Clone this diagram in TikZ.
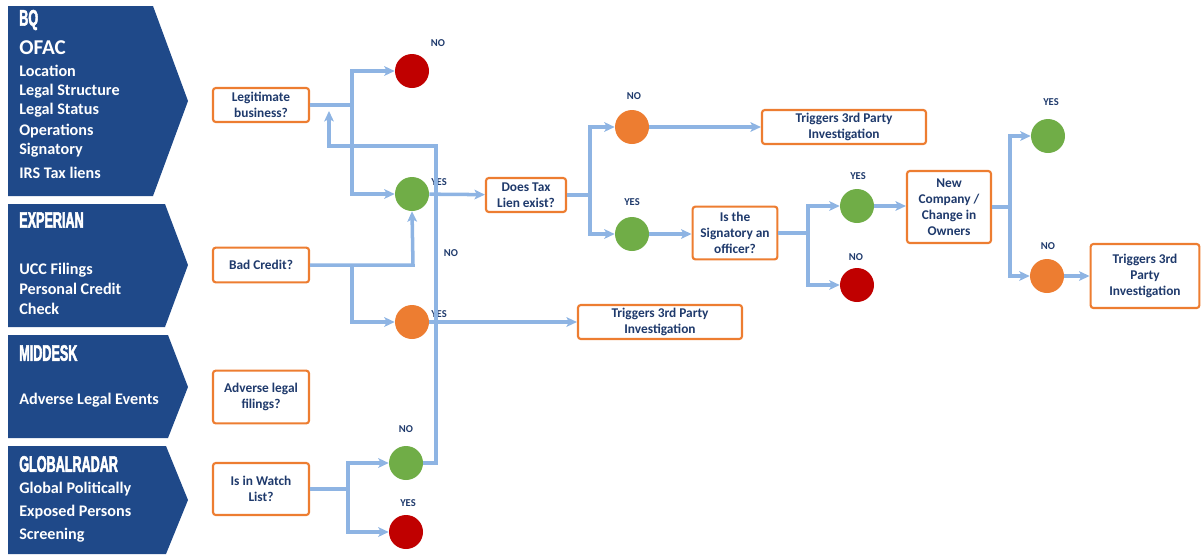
\documentclass[tikz,border=0pt]{standalone}
\usepackage{fontspec}
\setmainfont{Carlito}
\newfontfamily\headfont[FakeStretch=0.56, FakeBold=2.2]{Liberation Sans}
\usetikzlibrary{arrows.meta}

\definecolor{panelblue}{RGB}{31,73,137}
\definecolor{textblue}{RGB}{31,58,108}
\definecolor{boxorange}{RGB}{237,125,49}
\definecolor{linkblue}{RGB}{142,180,227}
\definecolor{dotgreen}{RGB}{112,173,71}
\definecolor{dotred}{RGB}{192,0,0}
\definecolor{dotorange}{RGB}{237,125,49}

\tikzset{
  ptext/.style={anchor=west, text=white, inner sep=0, font=\bfseries\fontsize{11.5}{13}\selectfont},
  phead/.style={anchor=west, text=white, inner sep=0, font=\headfont\bfseries\fontsize{16}{18}\selectfont},
  qbox/.style={draw=boxorange, line width=1.5pt, rounded corners=2pt, fill=white, align=center,
    text=textblue, inner sep=1pt, font=\bfseries\fontsize{9.5}{11.4}\selectfont},
  dot/.style={circle, minimum size=0.85cm, inner sep=0},
  tag/.style={text=textblue, font=\bfseries\fontsize{7.5}{9}\selectfont},
  link/.style={draw=linkblue, line width=2.5pt},
  arr/.style={link, -{Stealth[length=0.26cm,width=0.24cm,inset=0.06cm]}},
  bigarr/.style={arr, line width=3.5pt}
}

\begin{document}
\begin{tikzpicture}[x=0.025cm,y=-0.025cm]
\useasboundingbox (0,0) rectangle (1201,554);

% source panels
\fill[panelblue] (8,6) -- (153,6) -- (188,101) -- (153,196) -- (8,196) -- cycle;
\fill[panelblue] (8,204) -- (165,204) -- (188,265) -- (165,327) -- (8,327) -- cycle;
\fill[panelblue] (8,335) -- (168,335) -- (188,387) -- (168,438) -- (8,438) -- cycle;
\fill[panelblue] (8,446) -- (166,446) -- (188,500) -- (166,554) -- (8,554) -- cycle;

\node[phead] (hbq) at (19,20) {BQ};
\node[ptext, font=\bfseries\fontsize{15}{17}\selectfont] (ofac) at (19,48) {OFAC};
\foreach \t/\y [count=\i] in {Location/71, Legal Structure/91, Legal Status/110,
    Operations/131, Signatory/150, IRS Tax liens/173}
  \node[ptext] (bq\i) at (19,\y) {\t};

\node[phead] (hexp) at (19,220) {EXPERIAN};
\foreach \t/\y [count=\i] in {UCC Filings/270, Personal Credit/289, Check/309}
  \node[ptext] (exp\i) at (19,\y) {\t};

\node[phead] (hmid) at (19,353) {MIDDESK};
\node[ptext] (mid1) at (19,400) {Adverse Legal Events};

\node[phead] (hglo) at (19,464) {GLOBALRADAR};
\foreach \t/\y [count=\i] in {Global Politically/489, Exposed Persons/512, Screening/535}
  \node[ptext] (glo\i) at (19,\y) {\t};

% questions
\node[qbox, minimum width=2.4cm, minimum height=0.85cm] (legit) at (261,105) {Legitimate\\business?};
\node[qbox, minimum width=2.4cm, minimum height=0.87cm] (credit) at (261,265) {Bad Credit?};
\node[qbox, minimum width=2.4cm, minimum height=1.32cm] (adverse) at (261,397) {Adverse legal\\filings?};
\node[qbox, minimum width=2.4cm, minimum height=1.3cm] (watch) at (261,489) {Is in Watch\\List?};
\node[qbox, minimum width=2cm, minimum height=0.85cm] (taxlien) at (526,195) {Does Tax\\Lien exist?};
\node[qbox, minimum width=4.1cm, minimum height=0.85cm] (trig1) at (844,127) {Triggers 3rd Party\\Investigation};
\node[qbox, minimum width=4.1cm, minimum height=0.85cm] (trig2) at (660,322) {Triggers 3rd Party\\Investigation};
\node[qbox, minimum width=2.12cm, minimum height=1.32cm] (signat) at (735,233) {Is the\\Signatory an\\officer?};
\node[qbox, minimum width=2.1cm, minimum height=1.8cm] (newco) at (949,207) {New\\Company /\\Change in\\Owners};
\node[qbox, minimum width=2.72cm, minimum height=1.6cm] (trig3) at (1145,276) {Triggers 3rd\\Party\\Investigation};

% outcomes
\node[dot, fill=dotred] (lno) at (412,71) {};
\node[dot, fill=dotgreen] (lyes) at (412,194) {};
\node[dot, fill=dotorange] (cyes) at (412,322) {};
\node[dot, fill=dotgreen] (wno) at (406,463) {};
\node[dot, fill=dotred] (wyes) at (406,532) {};
\node[dot, fill=dotorange] (tno) at (632,127) {};
\node[dot, fill=dotgreen] (tyes) at (632,234) {};
\node[dot, fill=dotgreen] (syes) at (857,206) {};
\node[dot, fill=dotred] (sno) at (857,285) {};
\node[dot, fill=dotgreen] (nyes) at (1048,136) {};
\node[dot, fill=dotorange] (nno) at (1047,276) {};

\node[tag] (t1) at (438,43) {NO};
\node[tag] (t2) at (439,182) {YES};
\node[tag] (t3) at (439,314) {YES};
\node[tag] (t4) at (451,253) {NO};
\node[tag] (t5) at (406,429) {NO};
\node[tag] (t6) at (408,503) {YES};
\node[tag] (t7) at (634,96) {NO};
\node[tag] (t8) at (632,202) {YES};
\node[tag] (t9) at (858,176) {YES};
\node[tag] (t10) at (856,257) {NO};
\node[tag] (t11) at (1051,102) {YES};
\node[tag] (t12) at (1048,246) {NO};

% connectors
\coordinate (j1) at (352,105);
\draw[link] (legit.east) -- (j1);
\draw[arr] (j1) |- (lno);
\draw[arr] (j1) |- (lyes);

\coordinate (j2) at (413,265);
\coordinate (j3) at (352,265);
\draw[arr] (credit.east) -- (j2) -- (lyes.south);
\draw[arr] (j3) |- (cyes);

\draw[arr] (wno.east) -- (436,463) -- (436,146) -- (329,146) -- (329,111);

\coordinate (j4) at (348,489);
\draw[link] (watch.east) -- (j4);
\draw[arr] (j4) |- (wno);
\draw[arr] (j4) |- (wyes);

\draw[arr] (lyes) -- (taxlien);
\draw[arr] (cyes) -- (trig2);

\coordinate (j5) at (590,195);
\draw[link] (taxlien.east) -- (j5);
\draw[arr] (j5) |- (tno);
\draw[arr] (j5) |- (tyes);
\draw[arr] (tno) -- (trig1);
\draw[bigarr] (tyes) -- (signat.west |- tyes);

\coordinate (j6) at (808,233);
\draw[link] (signat.east) -- (j6);
\draw[arr] (j6) |- (syes);
\draw[arr] (j6) |- (sno);
\draw[bigarr] (syes) -- (newco.west |- syes);

\coordinate (j7) at (1010,207);
\draw[link] (newco.east) -- (j7);
\draw[arr] (j7) |- (nyes);
\draw[arr] (j7) |- (nno);
\draw[bigarr] (nno) -- (trig3);
\end{tikzpicture}
\end{document}
